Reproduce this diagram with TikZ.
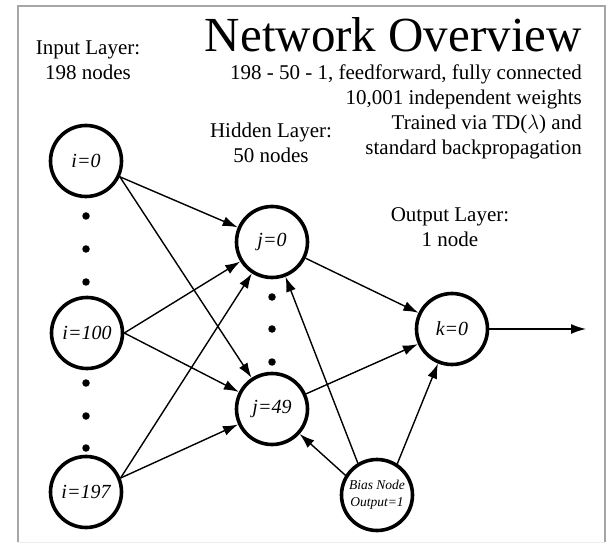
\documentclass[tikz,border=0pt]{standalone}
\usepackage{fontspec}
\setmainfont{Liberation Serif}
\usetikzlibrary{arrows.meta}
\begin{document}
\begin{tikzpicture}[x=1pt,y=-1pt,
  neuron/.style={circle,draw,line width=3.6pt,minimum size=71pt,inner sep=0pt,font=\fontsize{20}{22}\selectfont\itshape},
  biasnode/.style={circle,draw,line width=3.6pt,minimum size=71pt,inner sep=0pt,align=center,font=\fontsize{13.5}{17}\selectfont\itshape},
  conn/.style={line width=1.4pt,-{Latex[length=15pt,width=10pt]}},
  lbl/.style={font=\fontsize{21}{25}\selectfont,align=center,inner sep=0pt},
  dotmark/.style={circle,fill,inner sep=0pt,minimum size=7.5pt}]
\useasboundingbox (0,0) rectangle (608,548);
\fill[white] (0,0) rectangle (608,548);
\draw[gray!70,line width=2.5pt] (18,542) -- (18,6) -- (605,6) -- (605,542);
\draw[gray!15,line width=1pt] (18,542) -- (605,542);
% title and notes
\node[anchor=base east,inner sep=0pt,font=\fontsize{49}{50}\selectfont] (title) at (582,52) {Network Overview};
\node[anchor=base east,lbl] (n1) at (582,80) {198 - 50 - 1, feedforward, fully connected};
\node[anchor=base east,lbl] (n2) at (582,105) {10,001 independent weights};
\node[anchor=base east,lbl] (n3) at (582,130) {Trained via TD($\lambda$) and};
\node[anchor=base east,lbl] (n4) at (582,155) {standard backpropagation};
% layer labels
\node[anchor=base,lbl] (inlbl) at (88,80) {Input Layer:\\198 nodes};
\node[anchor=base,lbl] (hidlbl) at (271,163) {Hidden Layer:\\50 nodes};
\node[anchor=base,lbl] (outlbl) at (450,247) {Output Layer:\\1 node};
% nodes
\node[neuron] (i0) at (86,161) {i=0};
\node[neuron] (i100) at (87,333) {i=100};
\node[neuron] (i197) at (86,492) {i=197};
\node[neuron] (j0) at (272,242) {j=0};
\node[neuron] (j49) at (272,409) {j=49};
\node[neuron] (k0) at (452,329) {k=0};
\node[biasnode] (bias) at (377,495) {Bias Node\\Output=1};
\coordinate (out) at (586,329);
% dots
\node[dotmark] (d1) at (86,216) {};
\node[dotmark] (d2) at (86,249) {};
\node[dotmark] (d3) at (86,282) {};
\node[dotmark] (d4) at (86,383) {};
\node[dotmark] (d5) at (86,416) {};
\node[dotmark] (d6) at (86,448) {};
\node[dotmark] (d7) at (272,297) {};
\node[dotmark] (d8) at (272,329) {};
\node[dotmark] (d9) at (272,362) {};
% connections
\draw[conn] (i0.-25) -- (j0);
\draw[conn] (i0.-25) -- (j49);
\draw[conn] (i100.east) -- (j0);
\draw[conn] (i100.east) -- (j49);
\draw[conn] (i197.22) -- (j0);
\draw[conn] (i197.22) -- (j49);
\draw[conn] (j0) -- (k0);
\draw[conn] (j49) -- (k0);
\draw[conn] (bias.121) -- (j0);
\draw[conn] (bias.148) -- (j49);
\draw[conn] (bias.57) -- (k0);
\draw[conn] (k0) -- (out);
\end{tikzpicture}
\end{document}
